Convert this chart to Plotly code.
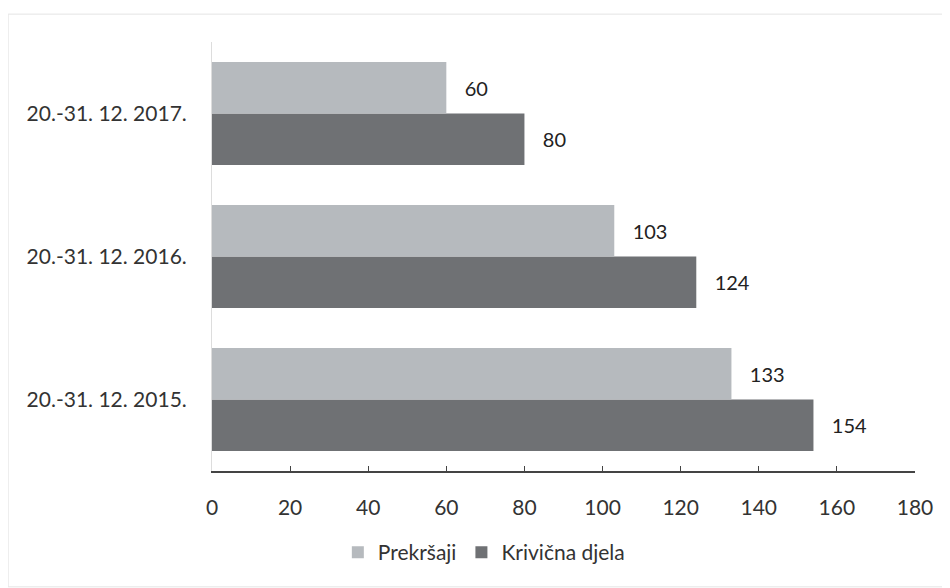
import plotly.graph_objects as go

categories = ["20.-31. 12. 2015.", "20.-31. 12. 2016.", "20.-31. 12. 2017."]
prekrsaji = [133, 103, 60]
krivicna = [154, 124, 80]
x_ticks = [0, 20, 40, 60, 80, 100, 120, 140, 160, 180]

FONT = "Lato, 'Open Sans', sans-serif"

fig = go.Figure()
fig.add_trace(go.Bar(
    y=categories, x=krivicna, orientation="h", name="Krivična djela",
    marker=dict(color="#6f7174", line=dict(width=0)),
    text=[f"   {v}" for v in krivicna], textposition="outside",
    textfont=dict(size=20, color="#222222", family=FONT), cliponaxis=False,
    legendrank=2,
))
fig.add_trace(go.Bar(
    y=categories, x=prekrsaji, orientation="h", name="Prekršaji",
    marker=dict(color="#b6babe", line=dict(width=0)),
    text=[f"   {v}" for v in prekrsaji], textposition="outside",
    textfont=dict(size=20, color="#222222", family=FONT), cliponaxis=False,
    legendrank=1,
))

fig.update_layout(
    width=950, height=588,
    margin=dict(l=204, r=43, t=34, b=125),
    paper_bgcolor="white", plot_bgcolor="white",
    barmode="group", bargap=0.28, bargroupgap=0,
    font=dict(family=FONT, size=20, color="#333333"),
    showlegend=True,
    legend=dict(orientation="h", x=0.179, xanchor="left", y=-0.19, yanchor="middle",
                font=dict(size=21, color="#333333"), itemwidth=30,
                bgcolor="rgba(0,0,0,0)"),
    xaxis=dict(range=[0, 180], tickvals=x_ticks, showgrid=False, zeroline=False,
               showline=True, linecolor="#444444", linewidth=1.5,
               ticks="inside", ticklen=5, tickcolor="#444444",
               ticklabelstandoff=17, tickfont=dict(size=21, color="#333333")),
    yaxis=dict(showgrid=False, zeroline=False, showline=True, linecolor="#dddddd",
               linewidth=1, ticks="", ticklabelstandoff=20,
               tickfont=dict(size=21, color="#333333")),
    shapes=[dict(type="rect", xref="paper", yref="paper",
                 x0=-0.29, x1=1.045, y0=-0.27, y1=1.065,
                 line=dict(color="#e4e4e4", width=1))],
)

fig.write_html("out.html")
